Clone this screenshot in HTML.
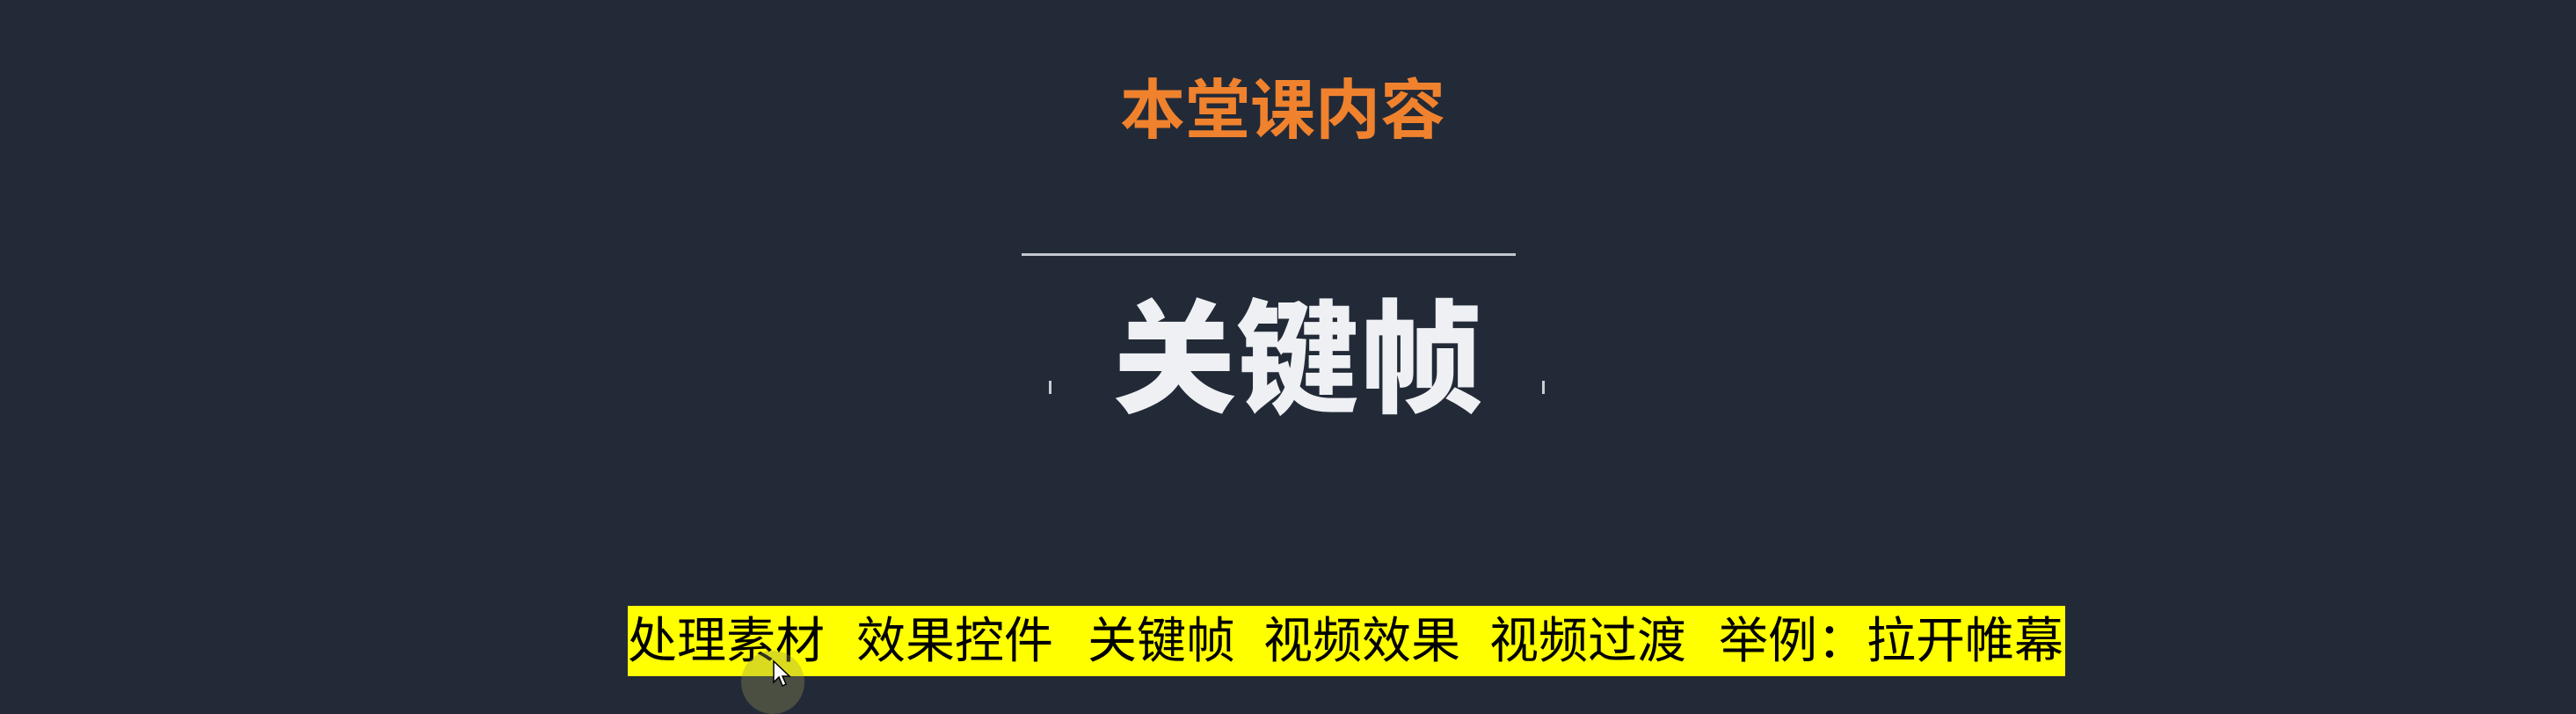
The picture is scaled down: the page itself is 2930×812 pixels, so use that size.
<!DOCTYPE html>
<html><head><meta charset="utf-8"><style>
html,body{margin:0;padding:0;}
body{width:2930px;height:799px;background:#232a37;position:relative;overflow:hidden;font-family:"Liberation Sans","Noto Sans CJK SC",sans-serif;}
.abs{position:absolute;white-space:nowrap;}
#title{left:1274px;top:78px;font-size:74px;line-height:96px;font-weight:bold;color:#f0822e;}
#rule{left:1162px;top:288px;width:562px;height:3px;background:#c2c8ce;}
#big{left:1266px;top:325px;font-size:140px;line-height:170px;font-weight:900;color:#eef0f4;}
.tick{width:3px;height:15px;top:433px;background:#c9ced4;}
#bar{left:714px;top:689px;width:1635px;height:80px;background:#ffff00;}
.item{top:689px;font-size:56px;line-height:80px;color:#000;}
#cursor-halo{left:843px;top:740px;width:72px;height:72px;border-radius:50%;background:rgba(150,150,90,0.35);}
</style></head><body>
<div id="title" class="abs">本堂课内容</div>
<div id="rule" class="abs"></div>
<div id="big" class="abs">关键帧</div>
<div class="abs tick" style="left:1193px"></div>
<div class="abs tick" style="left:1754px"></div>
<div id="bar" class="abs"></div>
<div class="abs item" style="left:714px">处理素材</div>
<div class="abs item" style="left:974px">效果控件</div>
<div class="abs item" style="left:1237px">关键帧</div>
<div class="abs item" style="left:1437px">视频效果</div>
<div class="abs item" style="left:1694px">视频过渡</div>
<div class="abs item" style="left:1955px">举例：拉开帷幕</div>
<div id="cursor-halo" class="abs"></div>
<svg class="abs" style="left:878px;top:750px" width="24" height="34"><path d="M2 2 L2 26 L8 20 L12 30 L16 28 L12 19 L20 19 Z" fill="#fff" stroke="#000" stroke-width="1.5"/></svg>
</body></html>
